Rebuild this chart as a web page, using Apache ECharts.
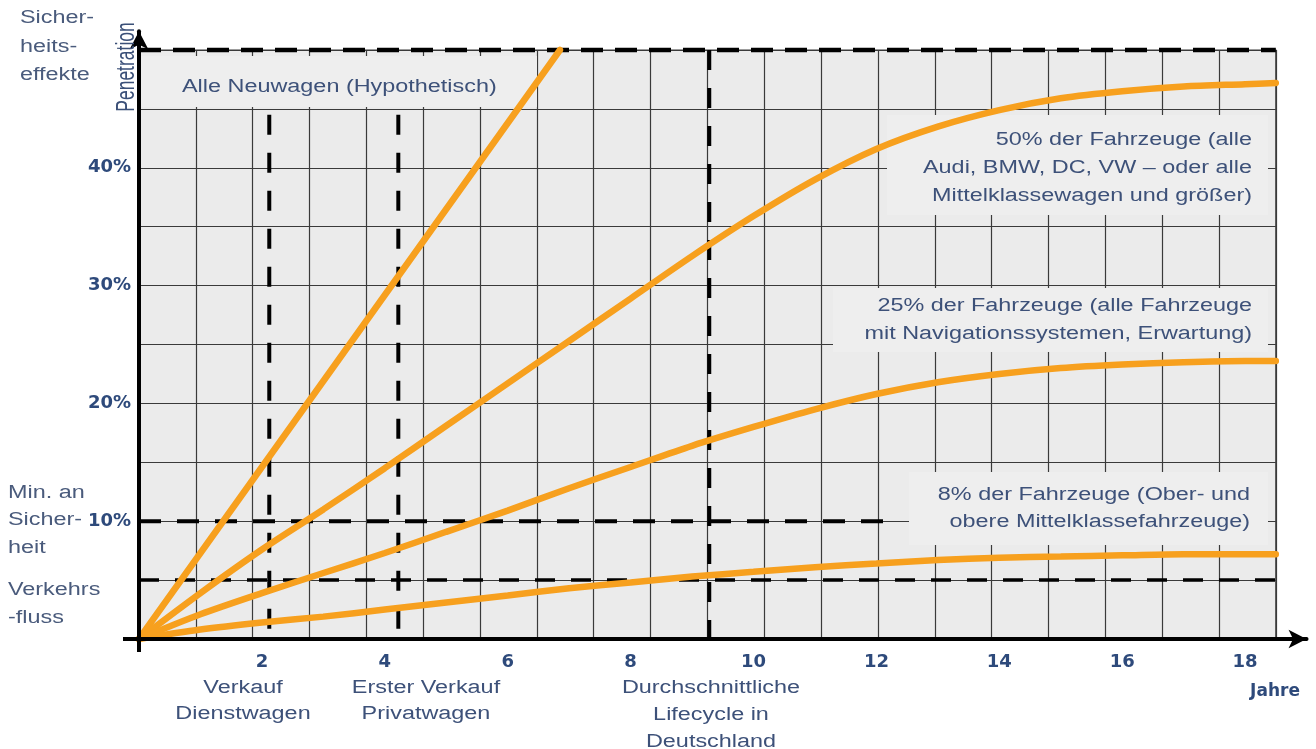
<!DOCTYPE html>
<html>
<head>
<meta charset="utf-8">
<script src="https://cdn.jsdelivr.net/npm/echarts@6/dist/echarts.min.js"></script>
<style>
  html, body { margin: 0; padding: 0; background: #ffffff; }
  #chart { width: 1316px; height: 749px; }
</style>
</head>
<body>
<div id="chart"></div>
<script>
// ---- data -------------------------------------------------------------
const years    = [0, 1, 2, 3, 4, 5, 6, 7, 8, 9, 10, 11, 12, 13, 14, 15, 16, 17, 18, 18.5];
const share50  = [0, 3.9, 7.6, 11.0, 14.5, 18.1, 21.7, 25.3, 28.9, 32.5, 35.9, 39.0, 41.6, 43.5, 44.9, 45.9, 46.5, 46.9, 47.1, 47.2];
const share25  = [0, 2.1, 3.9, 5.6, 7.3, 9.1, 10.9, 12.8, 14.6, 16.4, 18.0, 19.5, 20.8, 21.8, 22.5, 23.0, 23.3, 23.5, 23.6, 23.6];
const share8   = [0, 0.8, 1.4, 1.9, 2.5, 3.1, 3.7, 4.3, 4.8, 5.3, 5.7, 6.1, 6.4, 6.7, 6.9, 7.0, 7.1, 7.2, 7.2, 7.2];
const allNewYears = [0, 6.85];
const allNewShare = [0, 50];

// reference levels (percent) and milestones (years)
const levelSafetyEffects = 50;
const levelMinSafety = 10;
const levelTrafficFlow = 5;
const minSafetyEndYear = 12.3;
const milestoneYears = [2.12, 4.22, 9.28];
const milestoneTops  = [44.5, 44.5, 50];

// axis ticks
const xTickValues = [2, 4, 6, 8, 10, 12, 14, 16, 18];
const yTickValues = [10, 20, 30, 40];

// ---- geometry ---------------------------------------------------------
const ORIGIN_X = 139, ORIGIN_Y = 639;
const PX_PER_YEAR = 61.45, PX_PER_PCT = 11.78;
const AXIS_X_MAX = 19.0, AXIS_Y_MAX = 51.6;     // axis lines incl. arrow run
const FIELD_X_MAX = 18.5, FIELD_Y_MAX = 50;     // grey grid field
const FIELD_COLS = 20, FIELD_ROWS = 10;

const axisW = AXIS_X_MAX * PX_PER_YEAR, axisH = AXIS_Y_MAX * PX_PER_PCT;
const fieldW = FIELD_X_MAX * PX_PER_YEAR, fieldH = FIELD_Y_MAX * PX_PER_PCT;

const ORANGE = '#f7a01e';
const TEXT = '#3d5179';
const TICK = '#2e4a7b';
const FONT = '"Liberation Sans", Arial, sans-serif';

const zip = (xs, ys) => xs.map((x, i) => [x, ys[i]]);

function curve(name, xs, ys, smooth) {
  return {
    name, type: 'line', xAxisIndex: 0, yAxisIndex: 0,
    data: zip(xs, ys), symbol: 'none', smooth: smooth,
    lineStyle: { color: ORANGE, width: 6.5, cap: 'round' }, z: 4, silent: true
  };
}
function dashed(name, pts, dash, width) {
  return {
    name, type: 'line', xAxisIndex: 0, yAxisIndex: 0, data: pts, symbol: 'none',
    lineStyle: { color: '#000', width: width, type: dash }, z: 3, silent: true
  };
}

const series = [
  dashed('Sicherheitseffekte', [[0, levelSafetyEffects], [FIELD_X_MAX, levelSafetyEffects]], [22, 12], 4.5),
  dashed('Min. an Sicherheit', [[0, levelMinSafety], [minSafetyEndYear, levelMinSafety]], [22, 16], 4),
  dashed('Verkehrsfluss', [[0, levelTrafficFlow], [FIELD_X_MAX, levelTrafficFlow]], [20, 16], 3.5)
];
milestoneYears.forEach((yr, i) => {
  series.push(dashed('Meilenstein ' + (i + 1), [[yr, milestoneTops[i]], [yr, 0]], [20, 18], 4));
});
series.push(curve('Alle Neuwagen', allNewYears, allNewShare, false));
series.push(curve('50% der Fahrzeuge', years, share50, 0.3));
series.push(curve('25% der Fahrzeuge', years, share25, 0.3));
series.push(curve('8% der Fahrzeuge', years, share8, 0.3));

// ---- text -------------------------------------------------------------
function label(text, x, y, align, opts) {
  opts = opts || {};
  return {
    type: 'text', x: x, y: y, z: 10,
    scaleX: opts.scaleX || 1.3, scaleY: opts.scaleY || 1, rotation: opts.rotation || 0,
    style: {
      text: text, fill: opts.color || TEXT, align: align, verticalAlign: opts.valign || 'top',
      font: (opts.weight || 'normal') + ' ' + (opts.size || 18) + 'px ' + (opts.family || FONT),
      lineHeight: opts.lh || 28
    }
  };
}
function box(x, y, w, h) {
  return { type: 'rect', shape: { x: x, y: y, width: w, height: h }, style: { fill: '#eeeeee' }, z: 1, silent: true };
}

const graphic = [
  // axis extensions past the origin
  { type: 'line', shape: { x1: ORIGIN_X - 16, y1: ORIGIN_Y, x2: ORIGIN_X, y2: ORIGIN_Y }, style: { stroke: '#000', lineWidth: 4 }, z: 6 },
  { type: 'line', shape: { x1: ORIGIN_X, y1: ORIGIN_Y, x2: ORIGIN_X, y2: ORIGIN_Y + 13 }, style: { stroke: '#000', lineWidth: 4 }, z: 6 },

  // label backgrounds inside the field
  box(141, 56, 396, 51),
  box(887, 115, 381, 100),
  box(833, 288, 435, 64),
  box(909, 472, 359, 73),

  label('Alle Neuwagen (Hypothetisch)', 182, 73, 'left'),
  label('50% der Fahrzeuge (alle\nAudi, BMW, DC, VW \u2013 oder alle\nMittelklassewagen und größer)', 1252, 126, 'right'),
  label('25% der Fahrzeuge (alle Fahrzeuge\nmit Navigationssystemen, Erwartung)', 1252, 292, 'right'),
  label('8% der Fahrzeuge (Ober- und\nobere Mittelklassefahrzeuge)', 1250, 482, 'right', { lh: 27 }),

  label('Sicher-\nheits-\neffekte', 20, 4, 'left', { color: '#4a5b7c', lh: 28.5 }),
  label('Min. an\nSicher-\nheit', 8, 479, 'left', { color: '#4a5b7c', lh: 27.5 }),
  label('Verkehrs\n-fluss', 8, 576, 'left', { color: '#4a5b7c', lh: 28 }),

  label('Verkauf\nDienstwagen', 243, 675, 'center', { lh: 26 }),
  label('Erster Verkauf\nPrivatwagen', 426, 675, 'center', { lh: 26 }),
  label('Durchschnittliche\nLifecycle in\nDeutschland', 711, 675, 'center', { lh: 27 }),
  label('Jahre', 1275, 678, 'center', { weight: 'bold', color: TICK, scaleX: 1.0, size: 17,
    family: '"DejaVu Sans", sans-serif' }),

  label('Penetration', 127, 67, 'center', { rotation: Math.PI / 2, scaleX: 1, scaleY: 1.45, size: 17.5,
    valign: 'middle', color: '#3b5078' })
];

// ---- chart ------------------------------------------------------------
const chart = echarts.init(document.getElementById('chart'), null, { renderer: 'canvas' });

chart.setOption({
  animation: false,
  backgroundColor: '#ffffff',
  grid: [
    { left: ORIGIN_X, top: ORIGIN_Y - axisH, width: axisW, height: axisH, containLabel: false },
    { left: ORIGIN_X, top: ORIGIN_Y - fieldH, width: fieldW, height: fieldH, show: true,
      backgroundColor: '#ebebeb', borderColor: '#3a3a3a', borderWidth: 1.2, z: -1 }
  ],
  xAxis: [
    {
      gridIndex: 0, type: 'value', min: 0, max: AXIS_X_MAX, interval: 2, z: 6,
      axisLine: { show: true, onZero: false, symbol: ['none', 'arrow'], symbolSize: [14, 18],
        lineStyle: { color: '#000', width: 4 } },
      axisTick: { show: false }, splitLine: { show: false },
      axisLabel: {
        margin: 14, color: TICK, fontWeight: 'bold', fontSize: 18, fontFamily: '"DejaVu Sans", sans-serif',
        formatter: v => xTickValues.includes(v) ? String(v) : ''
      }
    },
    {
      gridIndex: 1, type: 'value', min: 0, max: FIELD_COLS, interval: 1, z: 0,
      axisLine: { show: false }, axisTick: { show: false }, axisLabel: { show: false },
      splitLine: { show: true, lineStyle: { color: '#3a3a3a', width: 1.2 } }
    }
  ],
  yAxis: [
    {
      gridIndex: 0, type: 'value', min: 0, max: AXIS_Y_MAX, interval: 10, z: 6,
      axisLine: { show: true, onZero: false, symbol: ['none', 'arrow'], symbolSize: [14, 18],
        lineStyle: { color: '#000', width: 4 } },
      axisTick: { show: false }, splitLine: { show: false },
      axisLabel: {
        margin: 8, color: TICK, fontWeight: 'bold', fontSize: 18, fontFamily: '"DejaVu Sans", sans-serif',
        formatter: v => yTickValues.includes(v) ? v + '%' : ''
      }
    },
    {
      gridIndex: 1, type: 'value', min: 0, max: FIELD_ROWS, interval: 1, z: 0,
      axisLine: { show: false }, axisTick: { show: false }, axisLabel: { show: false },
      splitLine: { show: true, lineStyle: { color: '#3a3a3a', width: 1.2 } }
    }
  ],
  series: series,
  graphic: graphic
});
</script>
</body>
</html>
